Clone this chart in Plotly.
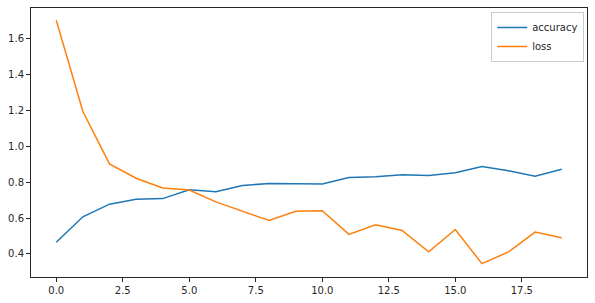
import plotly.graph_objects as go

epochs = list(range(20))
accuracy = [0.465, 0.607, 0.677, 0.704, 0.708, 0.757, 0.746, 0.781, 0.792, 0.792,
            0.789, 0.825, 0.829, 0.840, 0.837, 0.852, 0.886, 0.863, 0.833, 0.871]
loss = [1.700, 1.192, 0.901, 0.821, 0.767, 0.756, 0.690, 0.638, 0.586, 0.637,
        0.641, 0.509, 0.562, 0.531, 0.412, 0.536, 0.346, 0.412, 0.522, 0.490]
series_names = ["accuracy", "loss"]
colors = ["#1f77b4", "#ff7f0e"]

fig = go.Figure()
for name, vals, c in zip(series_names, [accuracy, loss], colors):
    fig.add_trace(go.Scatter(x=epochs, y=vals, mode="lines", name=name,
                             line=dict(color=c, width=1.5)))

ax = dict(showline=True, linecolor="#262626", linewidth=1, mirror=True,
          ticks="outside", ticklen=4, tickcolor="#262626", tickwidth=1,
          showgrid=False, zeroline=False,
          tickfont=dict(family="DejaVu Sans", size=10, color="#262626"))

fig.update_layout(
    width=595, height=303,
    margin=dict(l=31, r=7, t=7, b=24),
    plot_bgcolor="white", paper_bgcolor="white",
    xaxis=dict(range=[-0.95, 19.95], tickvals=[0, 2.5, 5, 7.5, 10, 12.5, 15, 17.5],
               ticktext=["0.0", "2.5", "5.0", "7.5", "10.0", "12.5", "15.0", "17.5"], **ax),
    yaxis=dict(range=[0.272, 1.768], tickvals=[0.4, 0.6, 0.8, 1.0, 1.2, 1.4, 1.6],
               ticktext=["0.4", "0.6", "0.8", "1.0", "1.2", "1.4", "1.6"], **ax),
    showlegend=True,
    legend=dict(x=0.995, y=0.985, xanchor="right", yanchor="top",
                bgcolor="rgba(255,255,255,0.8)", bordercolor="#cccccc", borderwidth=1,
                font=dict(family="DejaVu Sans", size=10, color="#262626"),
                tracegroupgap=0, itemwidth=30),
)

fig.write_html("out.html")
